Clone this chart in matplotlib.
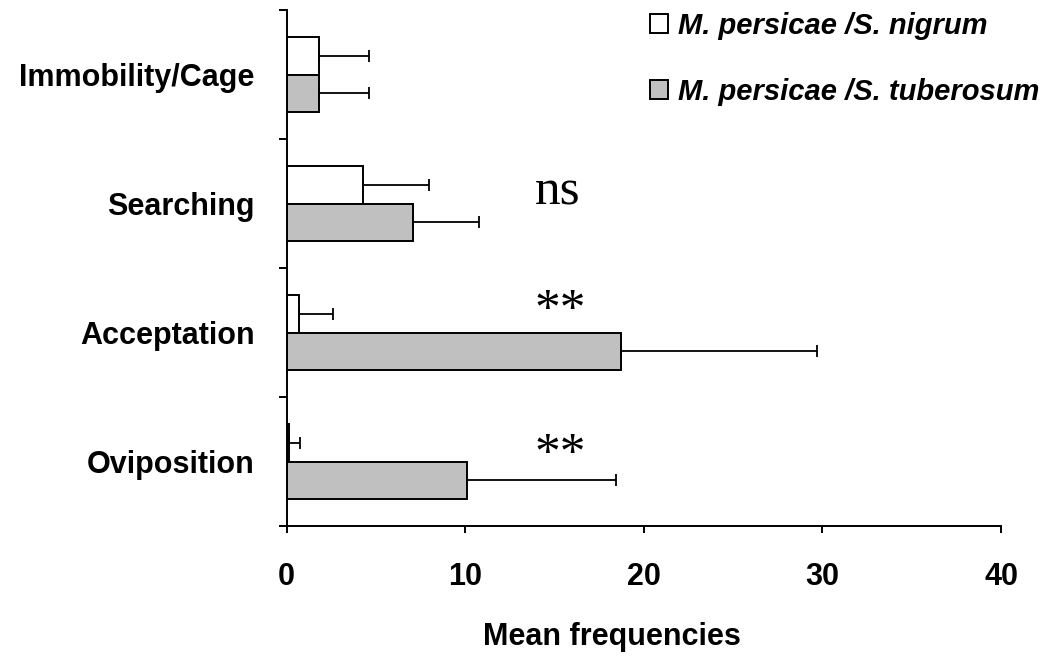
import numpy as np
import matplotlib
matplotlib.use('Agg')
import matplotlib.pyplot as plt

plt.rcParams['font.family'] = 'Liberation Sans'

# behaviours, bottom to top
behaviours = ['Oviposition', 'Acceptation', 'Searching', 'Immobility/Cage']
nigrum = [0.12, 0.68, 4.27, 1.8]        # M. persicae / S. nigrum
nigrum_err = [0.65, 1.9, 3.7, 2.8]
tuberosum = [10.1, 18.74, 7.1, 1.8]     # M. persicae / S. tuberosum
tuberosum_err = [8.35, 10.96, 3.7, 2.8]
signif = ['**', '**', 'ns', '']
x_ticks = [0, 10, 20, 30, 40]

W, H = 1049, 662
fig = plt.figure(figsize=(W / 100, H / 100), dpi=100)
ax = fig.add_axes([286.5 / W, 1 - 526 / H, (1001 - 286.5) / W, (526 - 10) / H])

y = np.arange(len(behaviours))
h = 0.29
ekw = dict(ecolor='black', elinewidth=1.3, capsize=4.3, capthick=1.3)

b1 = ax.barh(y + h / 2, nigrum, height=h, color='white', edgecolor='black',
             linewidth=1.4, xerr=[np.zeros(4), nigrum_err], error_kw=ekw,
             label='M. persicae /S. nigrum')
b2 = ax.barh(y - h / 2, tuberosum, height=h, color='#c0c0c0', edgecolor='black',
             linewidth=1.4, xerr=[np.zeros(4), tuberosum_err], error_kw=ekw,
             label='M. persicae /S. tuberosum')

ax.set_xlim(0, 40)
ax.set_ylim(-0.5, 3.5)
ax.set_xticks(x_ticks)
ax.set_xticklabels([str(t) for t in x_ticks], fontsize=22, fontweight='bold')
ax.set_yticks(np.arange(-0.5, 4, 1))
ax.set_yticklabels([])
ax.set_yticks(y, minor=True)
ax.set_yticklabels(behaviours, minor=True, fontsize=22, fontweight='bold')
ax.tick_params(axis='y', which='major', direction='out', length=6, width=1.4)
ax.tick_params(axis='y', which='minor', length=0, pad=23)
ax.tick_params(axis='x', direction='out', length=5, width=1.4, pad=21)

for s in ['top', 'right']:
    ax.spines[s].set_visible(False)
for s in ['left', 'bottom']:
    ax.spines[s].set_linewidth(1.4)

# significance marks
for yi, lab in zip(y, signif):
    if lab == 'ns':
        ax.text(15.2, yi - 0.01, lab, family='Liberation Serif', fontsize=37,
                ha='center', va='baseline')
    elif lab:
        ax.text(15.3, yi + 0.07 if yi == 1 else yi - 0.04, lab,
                family='Liberation Serif', fontsize=37, ha='center', va='baseline')

fig.text(612 / W, 1 - 645 / H, 'Mean frequencies', fontsize=22, fontweight='bold',
         ha='center', va='baseline')

ax.legend(handles=[b1, b2], loc='upper left', bbox_to_anchor=(650 / W, 1 - 12 / H),
          bbox_transform=fig.transFigure, frameon=False,
          prop=dict(family='Liberation Sans', weight='bold', style='italic', size=21),
          handlelength=0.6, handleheight=0.6, handletextpad=0.35,
          labelspacing=1.3, borderpad=0, borderaxespad=0)

fig.savefig('out.png', dpi=100)
